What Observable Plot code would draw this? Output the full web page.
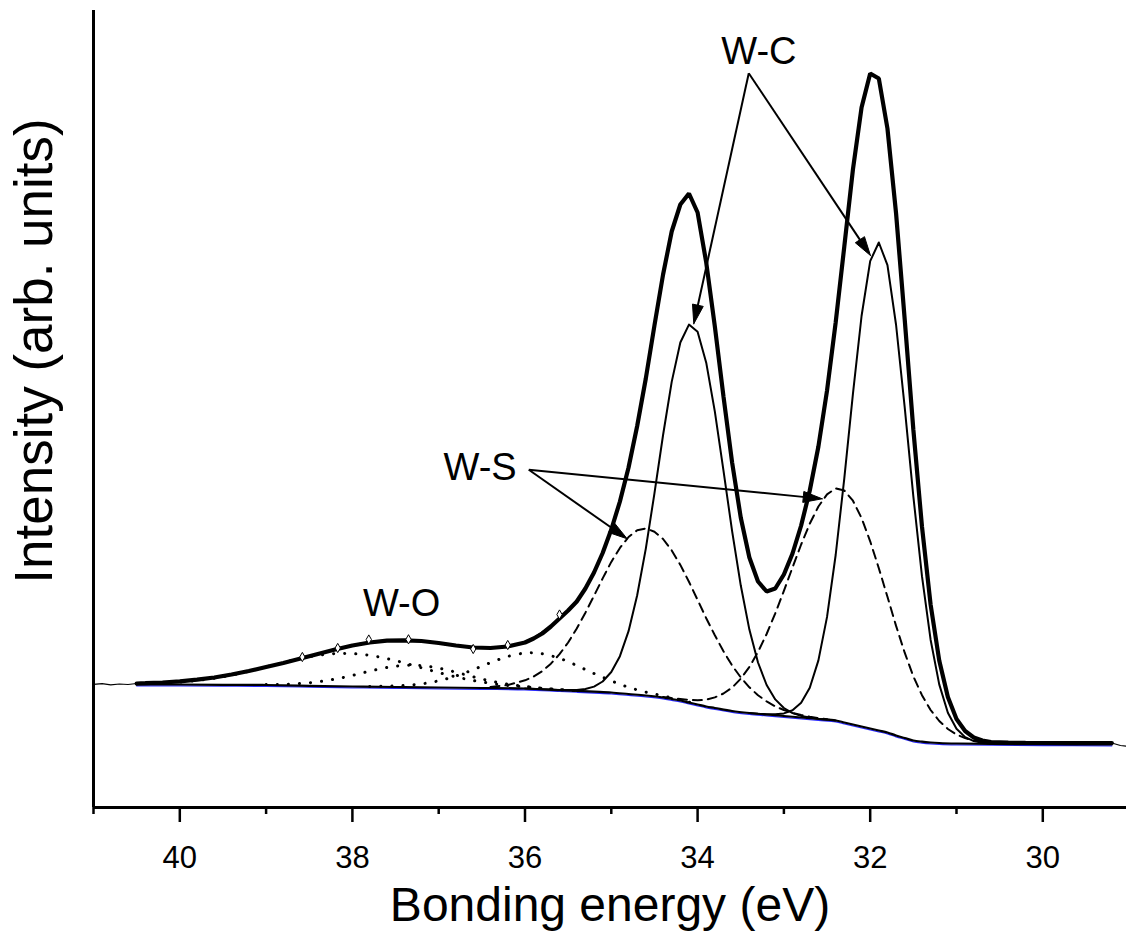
<!DOCTYPE html>
<html><head><meta charset="utf-8">
<script src="https://cdn.jsdelivr.net/npm/d3@7"></script>
<script src="https://cdn.jsdelivr.net/npm/@observablehq/plot@0.6"></script>
<style>html,body{margin:0;padding:0;background:#fff}svg{display:block}</style>
</head><body><div id="chart"></div>
<script>
// ---- data (binding energy in eV, intensity in arbitrary units) ----
const majorTicks = [40, 38, 36, 34, 32, 30];
const minorTicks = [41, 39, 37, 35, 33, 31];

const background = [[40.5,123],[40,123],[39.5,122.7],[39,122.5],[38.5,121.7],[38,121],[37.5,120.5],[37,120],[36.5,119.5],[36,119],[35.6,117.4],[35.4,116.6],[35.2,115.8],[35,115],[34.8,113.5],[34.6,112],[34.4,110],[34.3,108.5],[34.2,107],[34.1,105],[34,103],[33.9,101],[33.8,99.5],[33.6,96.5],[33.4,94.5],[33.2,93],[33,91.5],[32.8,90],[32.6,88.5],[32.4,87],[32.3,85],[32.2,83],[32.1,81],[32,79],[31.9,77],[31.8,75],[31.7,72],[31.6,69.5],[31.5,67],[31.4,65.8],[31.3,65],[31.2,64.5],[31,64],[30.6,63.6],[30,63.3],[29.2,63]];

const envelope = [[40.5,124],[40.4,124.3],[40.2,125],[40,126.2],[39.8,127.8],[39.6,130],[39.4,133],[39.2,136.5],[39,140.5],[38.8,144.5],[38.6,149],[38.4,153.5],[38.2,158],[38,162],[37.8,165],[37.6,166.8],[37.4,167.2],[37.2,166.5],[37,164.5],[36.8,162],[36.6,160],[36.4,159.5],[36.2,161],[36,165],[35.9,169],[35.8,174],[35.7,181],[35.6,189],[35.5,197],[35.4,206],[35.3,219],[35.2,235],[35.1,254.5],[35,278],[34.9,306],[34.8,340],[34.7,381.5],[34.6,429],[34.5,482],[34.4,533],[34.3,576],[34.2,603],[34.1,614],[34,595],[33.9,545],[33.8,481],[33.7,411],[33.6,345],[33.5,290],[33.4,250],[33.3,226],[33.2,216],[33.1,219],[33,233],[32.9,254],[32.8,282],[32.7,317],[32.6,361],[32.5,417],[32.4,485],[32.3,561],[32.2,638],[32.1,700],[32,734],[31.9,729],[31.8,679],[31.7,594],[31.6,488],[31.5,378],[31.4,281],[31.3,203],[31.2,147],[31.1,110.5],[31,88.5],[30.9,76.5],[30.8,70],[30.7,67],[30.6,65.5],[30.4,64.8],[30.2,64.6],[30,64.5],[29.6,64.5],[29.2,64.5]];

const rawLeft = [[41,123.2],[40.9,123.8],[40.8,122.6],[40.7,123.5],[40.6,123],[40.5,124],[40.3,124.9],[40.1,125.4],[39.9,127.2],[39.7,128.6],[39.5,131.8],[39.3,134.6],[39.1,139],[38.9,142.2],[38.7,147.5],[38.5,151],[38.3,156.5],[38.1,159.8],[37.9,164.5],[37.7,165.4],[37.5,167.8],[37.3,166.4],[37.1,165.8],[36.9,162.4],[36.7,161.2],[36.5,159],[36.3,160.6],[36.1,162.5],[35.9,170],[35.7,181.5]];
const rawRight = [[29.1,62],[29.03,61.3]];
const rawMarks = [[38.58,150.5],[38.17,159.5],[37.81,168],[37.35,168.2],[36.6,158.5],[36.2,162.5],[35.6,193]];

const wcPeak1 = [[36,119],[35.6,117.5],[35.5,117.4],[35.4,117.6],[35.3,118.5],[35.2,120.9],[35.1,126],[35,135.5],[34.9,151.3],[34.8,176.3],[34.7,212.2],[34.6,258.9],[34.5,314.1],[34.4,372.5],[34.3,425.6],[34.2,465],[34.1,482.9],[34,475.8],[33.9,444.8],[33.8,395.9],[33.7,336.8],[33.6,276.4],[33.5,222.2],[33.4,177.9],[33.3,145],[33.2,122.5],[33.1,108.1],[33,99.5],[32.9,94.4],[32.8,91.6],[32.7,89.9],[32.6,88.8],[32.4,87]];
const wcPeak2 = [[33.4,94.5],[33.3,93.8],[33.2,93.3],[33.1,93.2],[33,94.1],[32.9,97.2],[32.8,104.7],[32.7,119.8],[32.6,147.1],[32.5,190.6],[32.4,252.5],[32.3,329.2],[32.2,413.7],[32.1,491.5],[32,546.4],[31.9,565],[31.8,542.4],[31.7,482.5],[31.6,400.2],[31.5,311.2],[31.4,231.3],[31.3,167.8],[31.2,123.1],[31.1,94.8],[31,78.7],[30.9,70.4],[30.8,66.4],[30.7,64.7],[30.6,63.9],[30.4,63.5]];
const wsPeak1 = [[36.4,120.5],[36.2,122.5],[36,127.2],[35.9,131],[35.8,136.4],[35.7,143.8],[35.6,153.3],[35.5,165],[35.4,179],[35.3,194.8],[35.2,211.8],[35.1,229.1],[35,245.6],[34.9,259.6],[34.8,270.5],[34.7,277.2],[34.6,279],[34.5,275.8],[34.4,268.5],[34.3,257.1],[34.2,242.6],[34.1,225.7],[34,207.6],[33.9,189.3],[33.8,172.2],[33.7,156.2],[33.6,142],[33.5,130.1],[33.4,120.2],[33.3,112.2],[33.2,106.1],[33.1,101.1],[33,97.5],[32.9,94.6],[32.8,92.5],[32.7,90.7],[32.6,89.4],[32.5,88.3]];
const wsPeak2 = [[34.4,110.5],[34.3,109.4],[34.2,108.5],[34.1,107.6],[34,107.3],[33.9,107.8],[33.8,110.1],[33.7,114],[33.6,119.9],[33.5,128.8],[33.4,140.6],[33.3,155.5],[33.2,173.5],[33.1,194.1],[33,216.7],[32.9,240],[32.8,263],[32.7,283.8],[32.6,301],[32.5,313.2],[32.4,319.1],[32.3,317],[32.2,306.8],[32.1,289.4],[32,266.2],[31.9,239.3],[31.8,210.7],[31.7,181.6],[31.6,154.8],[31.5,131.1],[31.4,112.3],[31.3,97.5],[31.2,86.5],[31.1,78.5],[31,73],[30.9,69.4],[30.8,67],[30.7,65.5],[30.6,64.6],[30.4,63.8]];
const woPeak1 = [[40.5,123.6],[40.2,124.4],[40,125.5],[39.8,127.1],[39.6,129.3],[39.4,132.4],[39.2,136.2],[39,140.6],[38.8,145],[38.6,149.1],[38.4,152.2],[38.2,153.9],[38,153.9],[37.8,152.2],[37.6,148.9],[37.4,144.6],[37.2,139.7],[37,134.9],[36.8,130.6],[36.6,127],[36.4,124.2],[36.2,122.1],[36,120.7],[35.8,119.1],[35.6,117.9],[35.4,116.8]];
const woPeak2 = [[39,122.9],[38.8,123.2],[38.6,124],[38.4,125.7],[38.2,128.4],[38,132.1],[37.8,136.3],[37.6,140],[37.4,142.1],[37.2,141.9],[37,139.4],[36.8,135.3],[36.6,130.7],[36.4,126.5],[36.2,123.3],[36,121.1],[35.8,119.2],[35.6,117.8],[35.4,116.7]];
const woPeak3 = [[37.8,121],[37.6,121.3],[37.4,122],[37.2,123.6],[37,126.7],[36.8,131.5],[36.6,137.8],[36.4,144.8],[36.2,151],[36,154.5],[35.9,154.6],[35.8,153.7],[35.6,149.2],[35.4,142],[35.2,134],[35,126.7],[34.8,120.2],[34.6,115.4],[34.4,111.6],[34.2,107.6],[34,103.2]];

// annotations
const labelText = ["W-C", "W-S", "W-O"];
const labelE = [33.29, 36.52, 37.43];
const labelY = [756, 339.5, 203.5];
const arrowFromE = [33.407, 33.407, 35.956, 35.956];
const arrowFromY = [734.3, 734.3, 337.7, 337.7];
const arrowToE = [34.044, 31.997, 34.816, 32.556];
const arrowToY = [483.7, 552, 268.7, 308.7];

// ---- layout ----
const W = 1126, H = 942, mL = 93, mR = 0, mT = 10, mB = 135;
const xDomain = [41, 29.03], yDomain = [0, 797];
const font = "'Liberation Sans', Arial, Helvetica, sans-serif";

const rows = arr => arr.map(([e, v]) => ({e, v}));
const raw = rawLeft.concat(envelope.filter(d => d[0] < 35.65), rawRight);

const labels = labelText.map((t, i) => ({t, e: labelE[i], v: labelY[i]}));
const arrows = arrowFromE.map((_, i) => ({x1: arrowFromE[i], y1: arrowFromY[i], x2: arrowToE[i], y2: arrowToY[i]}));

// arrowhead triangles (computed in screen space from the same scales)
const xS = d3.scaleLinear(xDomain, [mL, W - mR]);
const yS = d3.scaleLinear(yDomain, [H - mB, mT]);
const headLen = 19, headHalf = 5.5;
const heads = [];
arrows.forEach((a, i) => {
  const px1 = xS(a.x1), py1 = yS(a.y1), px2 = xS(a.x2), py2 = yS(a.y2);
  const L = Math.hypot(px2 - px1, py2 - py1), ux = (px2 - px1) / L, uy = (py2 - py1) / L;
  const bx = px2 - ux * headLen, by = py2 - uy * headLen;
  const pts = [[px2, py2], [bx - uy * headHalf, by + ux * headHalf], [bx + uy * headHalf, by - ux * headHalf], [px2, py2]];
  pts.forEach(([x, y]) => heads.push({id: i, e: xS.invert(x), v: yS.invert(y)}));
});
const shafts = arrows.map(a => {
  const px1 = xS(a.x1), py1 = yS(a.y1), px2 = xS(a.x2), py2 = yS(a.y2);
  const L = Math.hypot(px2 - px1, py2 - py1);
  const k = (L - headLen + 2) / L;
  return {...a, x2: xS.invert(px1 + (px2 - px1) * k), y2: yS.invert(py1 + (py2 - py1) * k)};
});

const line = (arr, opts) => Plot.line(rows(arr), {x: "e", y: "v", stroke: "black", ...opts});
const dotted = {strokeWidth: 3, strokeDasharray: "0.1,11", strokeLinecap: "round", curve: "catmull-rom"};

const plot = Plot.plot({
  width: W, height: H,
  marginLeft: mL, marginRight: mR, marginTop: mT, marginBottom: mB,
  x: {domain: xDomain, axis: null},
  y: {domain: yDomain, axis: null},
  style: {fontFamily: font, background: "white", color: "black", overflow: "visible"},
  marks: [
    line(background, {stroke: "#2a2aff", strokeWidth: 1.3, dy: 1.3, curve: "catmull-rom"}),
    line(background, {strokeWidth: 2.2, curve: "catmull-rom"}),
    line(woPeak1, dotted),
    line(woPeak2, dotted),
    line(woPeak3, dotted),
    line(wsPeak1, {strokeWidth: 2, strokeDasharray: "9,6"}),
    line(wsPeak2, {strokeWidth: 2, strokeDasharray: "9,6"}),
    line(wcPeak1, {strokeWidth: 2}),
    line(wcPeak2, {strokeWidth: 2}),
    line(envelope, {strokeWidth: 4.2, strokeLinejoin: "miter"}),
    line(raw, {strokeWidth: 1.2}),
    Plot.dot(rows(rawMarks), {x: "e", y: "v", symbol: "diamond", r: 2.8, stroke: "black", fill: "white", strokeWidth: 1}),
    // axes
    Plot.ruleY([0], {strokeWidth: 3}),
    Plot.ruleX([41], {strokeWidth: 3}),
    Plot.axisX({ticks: minorTicks, tickSize: 7, tickFormat: () => "", strokeWidth: 2.5}),
    Plot.axisX({ticks: majorTicks, tickSize: 15, tickPadding: 23, fontSize: 31, strokeWidth: 2.5, tickFormat: d => String(d)}),
    Plot.text(["Bonding energy (eV)"], {frameAnchor: "bottom", dy: 98, fontSize: 48, lineAnchor: "middle", textAnchor: "middle"}),
    Plot.text(["Intensity (arb. units)"], {frameAnchor: "left", textAnchor: "middle", dx: -58, dy: -58, rotate: -90, fontSize: 53, lineAnchor: "middle"}),
    // annotations
    Plot.link(shafts, {x1: "x1", y1: "y1", x2: "x2", y2: "y2", stroke: "black", strokeWidth: 2}),
    Plot.line(heads, {x: "e", y: "v", z: "id", fill: "black", stroke: "black", strokeWidth: 1}),
    Plot.text(labels, {x: "e", y: "v", text: "t", fontSize: 38, lineAnchor: "middle"})
  ]
});
document.getElementById("chart").append(plot);
</script>
</body></html>
